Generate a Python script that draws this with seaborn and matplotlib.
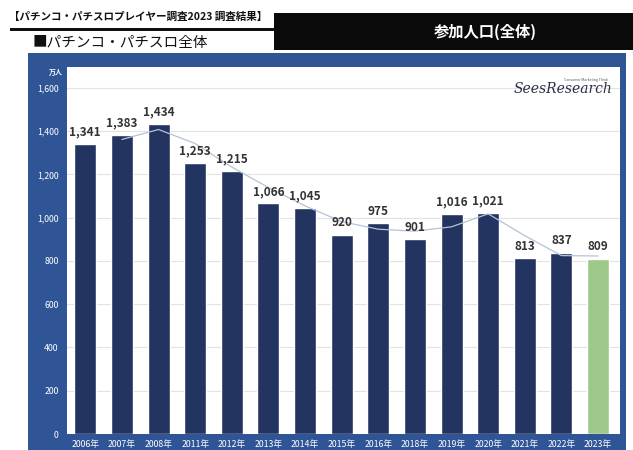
import matplotlib
matplotlib.use("Agg")
from matplotlib import pyplot as plt
from matplotlib.patches import Rectangle
import seaborn as sns
import pandas as pd

# values (unit: 万人)
years = ["2006年", "2007年", "2008年", "2011年", "2012年", "2013年", "2014年", "2015年",
         "2016年", "2018年", "2019年", "2020年", "2021年", "2022年", "2023年"]
population = [1341, 1383, 1434, 1253, 1215, 1066, 1045, 920, 975, 901, 1016, 1021, 813, 837, 809]
# thin trend line drawn over the bars (starts at 2007)
trend = [1362, 1408, 1343, 1234, 1140, 1055, 982, 947, 938, 958, 1018, 917, 825, 823]
y_ticks = [0, 200, 400, 600, 800, 1000, 1200, 1400, 1600]

sns.set_style("white")
plt.rcParams["font.family"] = ["Noto Sans CJK JP", "DejaVu Sans"]

W, H = 633, 450
fig = plt.figure(figsize=(W / 100, H / 100), dpi=100)
fig.patch.set_facecolor("white")

def px(x, y, w, h):
    # pixel box (top-left origin) -> figure fraction
    return [x / W, 1 - (y + h) / H, w / W, h / H]

# header
fig.text(9 / W, 1 - 17 / H, "【パチンコ・パチスロプレイヤー調査2023 調査結果】",
         fontsize=7.6, fontweight="bold", color="#111111", va="center", ha="left")
fig.add_artist(Rectangle((10 / W, 1 - 31 / H), 265 / W, 3 / H,
                         transform=fig.transFigure, color="#111111", lw=0))
fig.add_artist(Rectangle((274 / W, 1 - 50 / H), (W - 274) / W, 37 / H,
                         transform=fig.transFigure, color="#0a0a0a", lw=0))
fig.text(485 / W, 1 - 32 / H, "参加人口(全体)", fontsize=11, fontweight="bold",
         color="white", va="center", ha="center")
fig.text(33 / W, 1 - 43 / H, "■パチンコ・パチスロ全体", fontsize=10.5,
         color="#111111", va="center", ha="left")

# blue panel
fig.add_artist(Rectangle((28 / W, 0), 598 / W, 1 - 53 / H,
                         transform=fig.transFigure, color="#2f5597", lw=0, zorder=0))

ax = fig.add_axes(px(67, 67, 553, 367))
ax.set_facecolor("white")

df = pd.DataFrame({"year": years, "pop": population})
colors = ["#243461"] * (len(years) - 1) + ["#9dc88a"]
sns.barplot(data=df, x="year", y="pop", hue="year", palette=colors, legend=False,
            width=0.6, saturation=1, ax=ax, zorder=2)

tdf = pd.DataFrame({"x": list(range(1, len(years))), "t": trend})
sns.lineplot(data=tdf, x="x", y="t", ax=ax, color="#b4c3d6", lw=0.9, zorder=3)

for i, v in enumerate(population):
    ax.annotate(f"{v:,}", (i, v), xytext=(0, 4), textcoords="offset points",
                ha="center", va="bottom", fontsize=8.5, fontweight="bold", color="#333333")

ax.set_xlim(-0.5, 14.6)
ax.set_ylim(0, 1697)
ax.set_yticks(y_ticks)
ax.set_yticklabels([f"{t:,}" for t in y_ticks])
ax.grid(axis="y", color="#e3e3e3", lw=0.8, zorder=0)
ax.set_axisbelow(True)
ax.tick_params(axis="both", colors="white", labelsize=6.3, length=0, pad=6)
ax.tick_params(axis="x", pad=4)
for lbl in ax.get_xticklabels() + ax.get_yticklabels():
    lbl.set_color("white")
ax.set_xlabel("")
ax.set_ylabel("")
for s in ax.spines.values():
    s.set_visible(False)

fig.text(63 / W, 1 - 72 / H, "万人", fontsize=5, color="white", fontweight="bold",
         ha="right", va="center")

# logo
fig.text(612 / W, 1 - 89 / H, "SeesResearch", fontsize=10, family="DejaVu Serif",
         style="italic", color="#2a2f45", ha="right", va="center")
fig.text(608 / W, 1 - 80 / H, "Consumer Marketing Think", fontsize=2.5,
         color="#555555", ha="right", va="center")

fig.savefig("out.png", dpi=100)
